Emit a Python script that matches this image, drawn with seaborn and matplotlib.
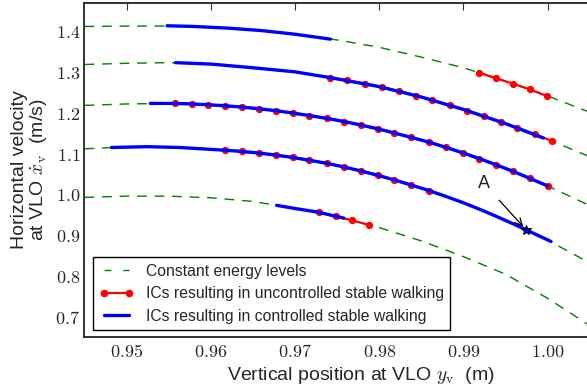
import numpy as np
import pandas as pd
import matplotlib
matplotlib.use("Agg")
import matplotlib.pyplot as plt
from matplotlib.ticker import FixedLocator, FuncFormatter
from matplotlib.lines import Line2D
import seaborn as sns

# ---------------- data ----------------
# constant-energy levels (dashed green)
e1_x = [0.945, 0.950, 0.955, 0.960, 0.965, 0.970, 0.975, 0.980, 0.985, 0.990, 0.995, 1.000, 1.0054]
e1_v = [1.412, 1.413, 1.413, 1.410, 1.404, 1.394, 1.379, 1.361, 1.337, 1.311, 1.278, 1.242, 1.199]
e2_x = [0.945, 0.950, 0.955, 0.960, 0.965, 0.970, 0.975, 0.980, 0.985, 0.990, 0.995, 1.000, 1.0054]
e2_v = [1.319, 1.322, 1.3235, 1.320, 1.311, 1.301, 1.2841, 1.2649, 1.2394, 1.2090, 1.1744, 1.1360, 1.090]
e3_x = [0.945, 0.950, 0.955, 0.960, 0.965, 0.970, 0.975, 0.980, 0.985, 0.990, 0.995, 1.000, 1.0054]
e3_v = [1.219, 1.2225, 1.224, 1.2200, 1.2122, 1.1995, 1.1825, 1.1608, 1.1340, 1.1024, 1.0647, 1.022, 0.970]
e4_x = [0.945, 0.950, 0.955, 0.960, 0.965, 0.970, 0.975, 0.980, 0.985, 0.990, 0.995, 1.000, 1.0054]
e4_v = [1.1127, 1.1175, 1.117, 1.1113, 1.1027, 1.0906, 1.0719, 1.0470, 1.0164, 0.9807, 0.937, 0.8895, 0.829]
e5_x = [0.945, 0.950, 0.955, 0.960, 0.965, 0.970, 0.975, 0.980, 0.985, 0.990, 0.995, 1.000, 1.0054]
e5_v = [0.994, 0.997, 0.997, 0.993, 0.984, 0.967, 0.947, 0.920, 0.8875, 0.849, 0.806, 0.747, 0.675]

# ICs resulting in uncontrolled stable walking (red)
r1_x = [0.9919, 0.9939, 0.9959, 0.9979, 0.9999]
r1_v = [1.299, 1.285, 1.272, 1.258, 1.242]
r2_x = [0.9742, 0.9762, 0.9783, 0.9803, 0.9823, 0.9844, 0.9863, 0.9884, 0.9904, 0.9924, 0.9944, 0.9964, 0.9985, 1.0005]
r2_v = [1.2868, 1.2801, 1.2724, 1.2636, 1.2538, 1.2430, 1.2315, 1.2192, 1.2064, 1.1928, 1.1787, 1.1643, 1.1487, 1.1318]
r3_x = [0.9557, 0.9577, 0.9597, 0.9617, 0.9637, 0.9657, 0.9677, 0.9697, 0.9717, 0.9738, 0.9758, 0.9778,
        0.9798, 0.9818, 0.9838, 0.9859, 0.9879, 0.9899, 0.9919, 0.9939, 0.9959, 0.9979, 1.0000]
r3_v = [1.2238, 1.2225, 1.2205, 1.2180, 1.2148, 1.2108, 1.2060, 1.2004, 1.1941, 1.1871, 1.1795, 1.1710,
        1.1617, 1.1515, 1.1406, 1.1290, 1.1164, 1.1030, 1.0887, 1.0735, 1.0575, 1.0403, 1.0220]
r4_x = [0.9617, 0.9637, 0.9657, 0.9677, 0.9697, 0.9717, 0.9738, 0.9758, 0.9778, 0.9798, 0.9818, 0.9838, 0.9859]
r4_v = [1.1093, 1.1063, 1.1024, 1.0975, 1.0916, 1.0848, 1.0771, 1.0684, 1.0587, 1.0481, 1.0366, 1.0241, 1.0106]
r5_x = [0.9728, 0.9748, 0.9768, 0.9788]
r5_v = [0.9576, 0.9478, 0.9375, 0.9265]

# ICs resulting in controlled stable walking (blue)
b1_x = [0.9548, 0.958, 0.962, 0.966, 0.970, 0.9742]
b1_v = [1.4137, 1.412, 1.408, 1.402, 1.393, 1.381]
b2_x = [0.9558, 0.960, 0.965, 0.970, 0.9742, 0.980, 0.985, 0.990, 0.995, 0.9995]
b2_v = [1.3235, 1.320, 1.311, 1.301, 1.2868, 1.2649, 1.2394, 1.2090, 1.1744, 1.139]
b3_x = [0.9528] + r3_x
b3_v = [1.2238] + r3_v
b4_x = [0.9482, 0.9524, 0.9563] + r4_x + [0.9880, 0.9900, 0.9920, 0.9940, 0.9960, 0.9974, 1.0004]
b4_v = [1.116, 1.118, 1.116] + r4_v + [0.9957, 0.9807, 0.9642, 0.9466, 0.9283, 0.915, 0.8860]
b5_x = [0.9678, 0.9700, 0.9728, 0.9748, 0.9758]
b5_v = [0.9745, 0.9668, 0.9576, 0.9478, 0.9432]

point_A = (0.99742, 0.915)

x_ticks = [0.95, 0.96, 0.97, 0.98, 0.99, 1.00]
y_ticks = [0.7, 0.8, 0.9, 1.0, 1.1, 1.2, 1.3, 1.4]

energy = [(e1_x, e1_v), (e2_x, e2_v), (e3_x, e3_v), (e4_x, e4_v), (e5_x, e5_v)]
uncontrolled = [(r1_x, r1_v), (r2_x, r2_v), (r3_x, r3_v), (r4_x, r4_v), (r5_x, r5_v)]
controlled = [(b1_x, b1_v), (b2_x, b2_v), (b3_x, b3_v), (b4_x, b4_v), (b5_x, b5_v)]

legend_labels = ["Constant energy levels",
                 "ICs resulting in uncontrolled stable walking",
                 "ICs resulting in controlled stable walking"]

# ---------------- style ----------------
sns.set_style("white")
plt.rcParams["font.family"] = ["Liberation Sans", "DejaVu Sans"]
plt.rcParams["mathtext.fontset"] = "cm"

fig = plt.figure(figsize=(5.87, 3.89), dpi=100)
W, H = 587, 389
left_px, right_px, bottom_px, top_px = 84.3, 638.0, 337.0, 3.0
ax = fig.add_axes([left_px / W, 1 - bottom_px / H,
                   (right_px - left_px) / W, (bottom_px - top_px) / H])

green = "#008000"
dash = (0, (7, 5.6))

for xs, vs in energy:
    df = pd.DataFrame({"y": xs, "v": vs})
    sns.lineplot(data=df, x="y", y="v", ax=ax, color=green, linewidth=1.0,
                 linestyle=dash, sort=False, estimator=None, legend=False)

for xs, vs in uncontrolled:
    df = pd.DataFrame({"y": xs, "v": vs})
    sns.lineplot(data=df, x="y", y="v", ax=ax, color="red", linewidth=1.6,
                 marker="o", markersize=4.5, markeredgecolor="red",
                 sort=False, estimator=None, legend=False)

for xs, vs in controlled:
    df = pd.DataFrame({"y": xs, "v": vs})
    sns.lineplot(data=df, x="y", y="v", ax=ax, color="blue", linewidth=2.4,
                 sort=False, estimator=None, legend=False)

ax.plot([point_A[0]], [point_A[1]], marker="*", markersize=7,
        markerfacecolor="blue", markeredgecolor="black", markeredgewidth=0.8,
        linestyle="none", zorder=5)
ax.annotate("A", xy=point_A, xytext=(-30, 33), textcoords="offset points",
            fontsize=13, ha="center", va="center",
            arrowprops=dict(arrowstyle="->", color="black", lw=0.9,
                            shrinkA=6, shrinkB=3))

# axes limits from pixel geometry
px_per_x = 8420.0
x0 = 0.95 - (126.7 - left_px) / px_per_x
x1 = 0.95 + (right_px - 126.7) / px_per_x
ax.set_xlim(x0, x1)
ax.set_ylim(0.6525, 1.4694)

ax.xaxis.set_major_locator(FixedLocator(x_ticks))
ax.yaxis.set_major_locator(FixedLocator(y_ticks))
ax.xaxis.set_major_formatter(FuncFormatter(lambda v, p: f"${v:.2f}$"))
ax.yaxis.set_major_formatter(FuncFormatter(lambda v, p: f"${v:.1f}$"))
ax.tick_params(axis="both", which="major", direction="in", length=5, width=0.8,
               color="#333333", labelsize=13, top=True, right=True)
ax.tick_params(axis="x", pad=5)
ax.tick_params(axis="y", pad=3)
for s in ax.spines.values():
    s.set_color("#222222")
    s.set_linewidth(1.3)

ax.set_xlabel(r"Vertical position at VLO $y_\mathrm{v}$  (m)", fontsize=14, labelpad=3)
ax.set_ylabel("Horizontal velocity\n" + r"at VLO $\dot{x}_\mathrm{v}$  (m/s)",
              fontsize=14, labelpad=4, linespacing=1.0)

handles = [Line2D([], [], color=green, lw=1.0, linestyle=(0, (5, 8.6))),
           Line2D([], [], color="red", lw=1.6, marker="o", markersize=4.5),
           Line2D([], [], color="blue", lw=2.4)]
leg = ax.legend(handles, legend_labels, loc="lower left",
                bbox_to_anchor=((92.7 - left_px) / (right_px - left_px),
                                (bottom_px - 330) / (bottom_px - top_px)),
                borderaxespad=0, fontsize=11.3, numpoints=2, fancybox=False,
                framealpha=1, edgecolor="black", handlelength=2.2,
                handletextpad=0.78, borderpad=0.4, labelspacing=0.48)
leg.get_frame().set_linewidth(1.0)

fig.savefig("out.png", dpi=100)
